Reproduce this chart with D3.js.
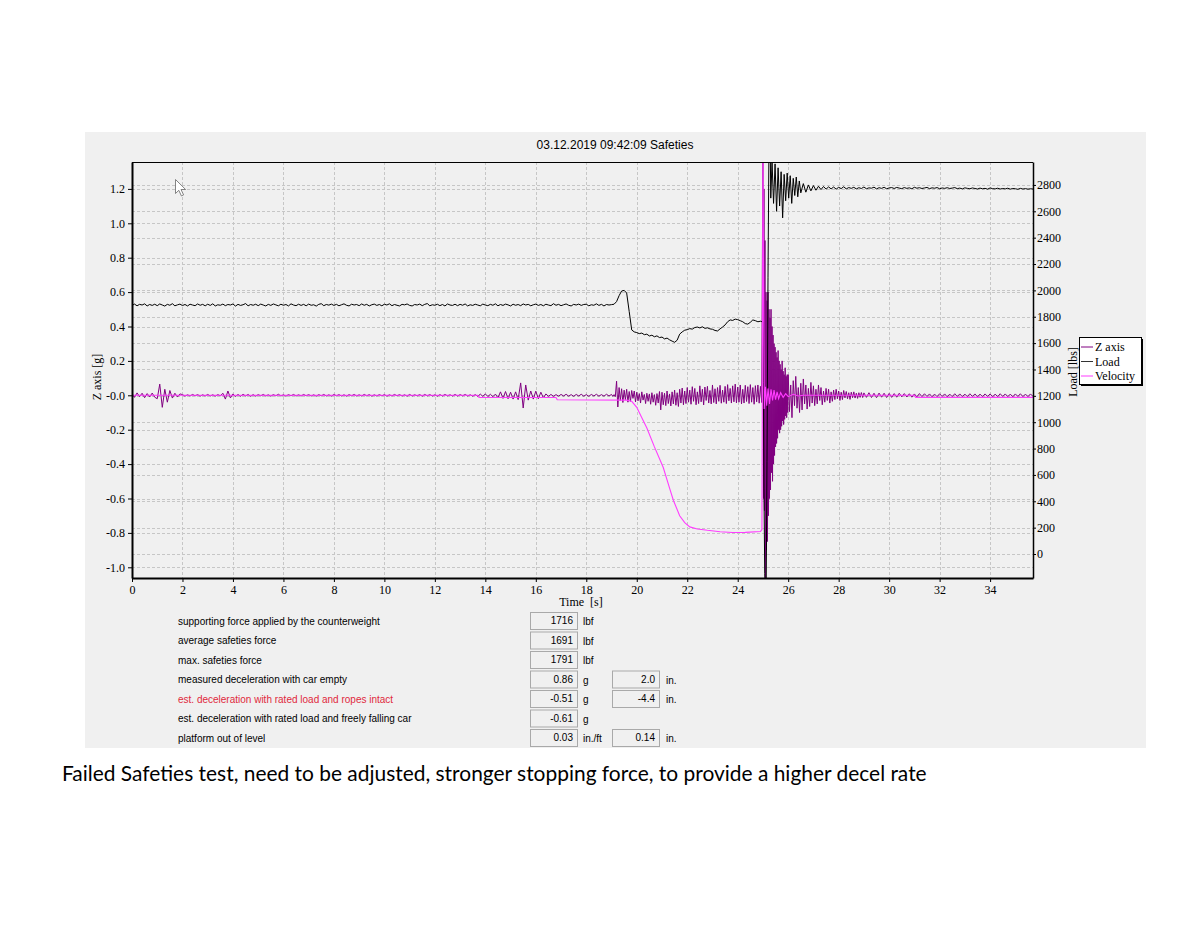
<!DOCTYPE html>
<html><head><meta charset="utf-8">
<script src="https://cdn.jsdelivr.net/npm/d3@7"></script>
<style>body{margin:0;background:#fff}svg{display:block}</style>
</head><body><svg id="c" width="1200" height="927"></svg>
<script>
// ---------- data ----------
const chartTitle = "03.12.2019 09:42:09 Safeties";
const caption = "Failed Safeties test, need to be adjusted, stronger stopping force, to provide a higher decel rate";
const timeTicks = [0,2,4,6,8,10,12,14,16,18,20,22,24,26,28,30,32,34];
const zTicks = [-1.0,-0.8,-0.6,-0.4,-0.2,0,0.2,0.4,0.6,0.8,1.0,1.2];
const zTickLabels = ["-1.0","-0.8","-0.6","-0.4","-0.2","-0.0","0.2","0.4","0.6","0.8","1.0","1.2"];
const loadTicks = [0,200,400,600,800,1000,1200,1400,1600,1800,2000,2200,2400,2600,2800];
const seriesNames = ["Z axis","Load","Velocity"];

// Load [lbs], sampled every 0.1 s from 0.0 s to 24.9 s
const loadPre = [
1886,1896,1883,1894,1889,1898,1882,1893,1886,1895,
1884,1897,1889,1881,1894,1887,1899,1883,1890,1896,
1885,1893,1882,1895,1889,1884,1897,1887,1894,1883,
1895,1886,1898,1882,1891,1887,1896,1884,1893,1889,
1897,1881,1894,1886,1891,1900,1883,1893,1887,1895,
1884,1896,1889,1882,1894,1886,1897,1890,1883,1895,
1887,1893,1882,1898,1889,1884,1895,1886,1894,1883,
1896,1887,1891,1881,1894,1899,1884,1893,1888,1896,
1886,1894,1883,1891,1898,1887,1882,1895,1889,1893,
1884,1897,1887,1894,1882,1891,1896,1886,1893,1883,
1895,1889,1898,1884,1893,1887,1882,1894,1890,1897,
1886,1882,1893,1889,1896,1884,1894,1900,1883,1891,
1887,1895,1884,1893,1882,1897,1889,1886,1895,1884,
1894,1887,1897,1882,1891,1886,1895,1889,1883,1896,
1889,1884,1894,1887,1898,1883,1893,1886,1896,1890,
1882,1895,1887,1893,1884,1897,1889,1894,1883,1891,
1896,1886,1893,1883,1895,1889,1884,1899,1887,1894,
1884,1891,1897,1887,1882,1894,1889,1896,1886,1893,
1895,1883,1891,1887,1898,1886,1894,1882,1893,1889,
1892,1895,1915,1960,1995,2000,1980,1840,1700,1685,
1680,1672,1676,1664,1668,1654,1660,1648,1655,1642,
1646,1632,1638,1625,1615,1606,1622,1668,1685,1698,
1702,1710,1706,1718,1722,1715,1724,1712,1716,1708,
1705,1696,1692,1708,1722,1738,1762,1776,1772,1782,
1778,1770,1762,1748,1744,1758,1776,1770,1762,1766
];
// Load [lbs] during the impact, [time s, lbs]
const loadImpact = [
[25.0,1760],[25.02,1300],[25.04,500],[25.07,-150],[25.1,-300],[25.13,-200],[25.16,700],
[25.2,2100],[25.24,3150],[25.28,3250],[25.31,2700],[25.36,2980],[25.42,2660],[25.48,2960],
[25.54,2600],[25.6,2930],[25.66,2640],[25.72,2900],[25.78,2550],[25.84,2880],[25.9,2680],
[25.96,2890],[26.02,2700],[26.08,2870],[26.14,2660],[26.2,2850],[26.26,2720],[26.32,2860],
[26.38,2710],[26.44,2830],[26.5,2740]
];
// Load [lbs], every 0.1 s from 26.6 s to 35.7 s
const loadPost = [
2810,2745,2800,2755,2795,2760,2790,2765,2788,2768,
2785,2770,2784,2768,2782,2772,2786,2770,2780,2774,
2782,2770,2779,2773,2784,2771,2778,2775,2783,2770,
2779,2774,2782,2771,2777,2780,2773,2781,2776,2772,
2780,2774,2778,2771,2782,2775,2779,2773,2777,2781,
2772,2778,2775,2780,2771,2777,2774,2779,2773,2776,
2780,2772,2776,2770,2778,2774,2771,2777,2773,2769,
2776,2771,2774,2768,2777,2772,2770,2775,2769,2773,
2770,2775,2768,2773,2771,2767,2774,2769,2772,2768,
2771,2769
];

// Z axis [g], every 0.1 s from 0.0 s to 18.9 s
const zPre = [
.010,-.012,.014,-.008,.012,-.014,.010,-.010,.013,-.011,
-.020,.065,-.070,.035,-.040,.028,-.016,.012,-.010,.008,
.004,-.005,.003,-.004,.005,-.003,.004,-.005,.003,-.004,
.005,-.004,.003,-.005,.004,-.003,.012,-.022,.025,-.015,
.008,-.007,.005,-.006,.006,-.004,.005,-.006,.004,-.005,
.004,-.003,.005,-.004,.003,-.005,.004,-.003,.006,-.004,
.003,-.005,.004,-.003,.005,-.004,.003,-.004,.005,-.003,
.004,-.004,.003,-.005,.004,-.003,.005,-.004,.003,-.005,
.005,-.003,.004,-.004,.003,-.005,.004,-.003,.005,-.004,
.003,-.004,.005,-.003,.004,-.005,.003,-.004,.004,-.003,
.004,-.005,.003,-.004,.005,-.003,.004,-.004,.003,-.005,
.005,-.004,.003,-.003,.004,-.005,.005,-.003,.004,-.004,
.003,-.005,.004,-.004,.005,-.003,.003,-.004,.005,-.004,
.004,-.003,.005,-.004,.003,-.005,.004,-.006,.007,-.006,
.008,-.007,.006,-.008,.007,-.015,.020,-.018,.022,-.020,
.018,-.022,.020,-.025,.072,-.074,.060,-.028,.025,-.022,
.024,-.020,.018,-.015,.008,-.006,.005,-.006,.004,-.005,
.005,-.004,.006,-.005,.004,-.006,.005,-.004,.006,-.005,
.004,-.006,.005,-.004,.006,-.005,.004,-.005,.006,-.004
];
// Z axis [g], every 0.05 s from 19.0 s to 24.95 s
const zMid = [
.005,-.006,.004,-.008,.082,-.068,.045,-.030,.038,-.042,
.030,-.025,.035,-.040,.022,-.035,.028,-.018,.025,-.038,
.018,-.032,.010,-.045,.020,-.028,.005,-.048,.012,-.035,
.008,-.052,.015,-.040,.004,-.058,.010,-.045,.022,-.085,
.018,-.055,.012,-.060,.025,-.048,.008,-.062,.020,-.050,
.030,-.058,.015,-.065,.035,-.045,.042,-.055,.025,-.048,
.045,-.040,.030,-.052,.050,-.035,.040,-.055,.020,-.048,
.055,-.038,.035,-.056,.048,-.030,.052,-.045,.028,-.050,
.060,-.042,.038,-.050,.045,-.035,.058,-.046,.030,-.040,
.052,-.048,.062,-.032,.040,-.045,.055,-.038,.065,-.044,
.048,-.040,.060,-.050,.035,-.045,.058,-.036,.050,-.048,
.062,-.040,.045,-.052,.056,-.038,.060,-.046,.052,-.042
];
// Z axis [g] during the impact, [time s, g]
const zImpact = [
[25.0,1.5],[25.02,-.6],[25.04,1.2],[25.06,-.67],[25.08,.9],[25.1,-1.1],[25.12,.6],[25.14,-.9],
[25.16,.55],[25.18,-.85],[25.2,.6],[25.22,-.7],[25.24,.5],[25.26,-.6],[25.28,.45],[25.3,-.55],
[25.32,.5],[25.34,-.45],[25.36,.4],[25.38,-.5],[25.4,.35],[25.42,-.4],[25.44,.3],[25.46,-.35],
[25.48,.28],[25.5,-.3],[25.52,.25],[25.54,-.28],[25.56,.22],[25.58,-.25],[25.6,.26],[25.62,-.2],
[25.64,.2],[25.66,-.22],[25.68,.18],[25.7,-.2],[25.72,.15],[25.74,-.18],[25.76,.2],[25.78,-.15],
[25.8,.14],[25.82,-.17],[25.84,.12],[25.86,-.14],[25.88,.16],[25.9,-.12],[25.92,.11],[25.94,-.13],
[25.96,.12],[25.98,-.1]
];
// Z axis [g], every 0.05 s from 26.0 s to 28.95 s
const zDecay = [
.120,-.095,.060,-.130,.085,-.060,.110,-.075,.045,-.100,
.070,-.085,.095,-.050,.060,-.080,.040,-.065,.075,-.045,
.055,-.060,.035,-.050,.060,-.030,.045,-.055,.025,-.040,
.040,-.030,.035,-.045,.020,-.035,.030,-.025,.035,-.020,
.025,-.030,.018,-.025,.028,-.015,.022,-.020,.015,-.024,
.018,-.014,.020,-.016,.012,-.018,.015,-.012,.016,-.013
];
// Z axis [g], every 0.1 s from 29.0 s to 35.7 s
const zPost = [
.014,-.012,.015,-.013,.012,-.014,.013,-.011,.012,-.013,
.011,-.012,.010,-.011,.012,-.009,.010,-.010,.009,-.011,
.008,-.009,.010,-.008,.009,-.007,.008,-.009,.007,-.008,
.009,-.007,.008,-.009,.007,-.008,.009,-.007,.008,-.008,
.007,-.008,.009,-.007,.008,-.009,.007,-.008,.008,-.007,
.008,-.009,.007,-.008,.009,-.007,.008,-.008,.007,-.009,
.008,-.007,.009,-.008,.007,-.008,.008,-.007
];
// Velocity (plotted on the left scale), [time s, value]
const velocity = [
[0,0],[13.7,0],[13.75,-.013],[16.8,-.013],[16.85,-.026],[19.6,-.028],[19.8,-.035],[20.0,-.07],
[20.2,-.13],[20.4,-.19],[20.7,-.3],[21.05,-.42],[21.3,-.54],[21.45,-.61],[21.7,-.70],[21.9,-.74],
[22.1,-.765],[22.4,-.777],[22.8,-.785],[23.3,-.793],[23.8,-.798],[24.3,-.797],[24.9,-.792],
[24.96,-.78],[25.0,1.45],[25.05,-.08],[25.1,.05],[25.15,-.06],[25.2,.04],[25.26,-.05],[25.32,.035],
[25.38,-.03],[25.44,.03],[25.5,-.025],[25.56,.02],[25.62,-.02],[25.7,.015],[25.8,-.012],
[25.9,.01],[26.0,-.008],[26.2,.006],[26.4,-.004],[26.6,0],[31.0,0],[31.05,-.012],[35.7,-.012]
];

// results table
const tableLabels = [
"supporting force applied by the counterweight",
"average safeties force",
"max. safeties force",
"measured deceleration with car empty",
"est. deceleration with rated load and ropes intact",
"est. deceleration with rated load and freely falling car",
"platform out of level"
];
const tableValues = ["1716","1691","1791","0.86","-0.51","-0.61","0.03"];
const tableUnits = ["lbf","lbf","lbf","g","g","g","in./ft"];
const tableValues2 = [null,null,null,"2.0","-4.4",null,"0.14"];
const tableUnits2 = [null,null,null,"in.","in.",null,"in."];
const warnRow = 4;

// ---------- drawing ----------
const svg = d3.select("#c");
const W = 1200, H = 927;
const L = 132, R = 1033, T = 162, B = 578;
const serif = "'Liberation Serif','Times New Roman',serif";
const sans = "'Liberation Sans',Arial,sans-serif";
const colZ = "#800080", colLoad = "#000000", colVel = "#ff3cff";

const uniform = (t0, dt, vals) => vals.map((v, i) => [+(t0 + i * dt).toFixed(3), v]);
const loadData = uniform(0, 0.1, loadPre).concat(loadImpact, uniform(26.6, 0.1, loadPost));
const zData = uniform(0, 0.1, zPre).concat(uniform(19.0, 0.05, zMid), zImpact,
  uniform(26.0, 0.05, zDecay), uniform(29.0, 0.1, zPost));

svg.append("rect").attr("width", W).attr("height", H).attr("fill", "#fff");
svg.append("rect").attr("x", 85).attr("y", 132).attr("width", 1061).attr("height", 616).attr("fill", "#f0f0f0");

const x = d3.scaleLinear([0, 35.70], [L, R]);
const yZ = d3.scaleLinear([-1.0622, 1.3564], [B, T]);
const yL = d3.scaleLinear([-182, 2974], [B, T]);

// grid
const grid = svg.append("g").attr("stroke", "#c6c6c6").attr("stroke-dasharray", "3,2").attr("stroke-width", 1);
grid.selectAll(".gv").data(timeTicks.filter(d => d > 0)).join("line")
  .attr("x1", d => Math.round(x(d)) + 0.5).attr("x2", d => Math.round(x(d)) + 0.5).attr("y1", T).attr("y2", B);
grid.selectAll(".gz").data(zTicks).join("line")
  .attr("x1", L).attr("x2", R).attr("y1", d => Math.round(yZ(d)) + 0.5).attr("y2", d => Math.round(yZ(d)) + 0.5);
grid.selectAll(".gl").data(loadTicks).join("line")
  .attr("x1", L).attr("x2", R).attr("y1", d => Math.round(yL(d)) + 0.5).attr("y2", d => Math.round(yL(d)) + 0.5);

// series
svg.append("clipPath").attr("id", "pc").append("rect").attr("x", L).attr("y", T).attr("width", R - L).attr("height", B - T);
const plot = svg.append("g").attr("clip-path", "url(#pc)");
const lineZ = d3.line().x(d => x(d[0])).y(d => yZ(d[1]));
const lineL = d3.line().x(d => x(d[0])).y(d => yL(d[1]));
plot.append("path").datum(zData).attr("d", lineZ).attr("fill", "none").attr("stroke", colZ).attr("stroke-width", 1);
plot.append("path").datum(loadData).attr("d", lineL).attr("fill", "none").attr("stroke", colLoad).attr("stroke-width", 1);
plot.append("path").datum(velocity).attr("d", lineZ).attr("fill", "none").attr("stroke", colVel).attr("stroke-width", 1.1);

// axes
function styleAxis(g, w) {
  g.select(".domain").attr("stroke", "#000").attr("stroke-width", w);
  g.selectAll(".tick line").attr("stroke", "#000");
  g.selectAll(".tick text").attr("font-family", serif).attr("font-size", 12).attr("fill", "#000");
}
svg.append("g").attr("transform", `translate(0,${B})`)
  .call(d3.axisBottom(x).tickValues(timeTicks).tickFormat(d3.format("d")).tickSize(4).tickSizeOuter(0))
  .call(g => styleAxis(g, 2));
svg.append("g").attr("transform", `translate(${L},0)`)
  .call(d3.axisLeft(yZ).tickValues(zTicks).tickFormat((d, i) => zTickLabels[i]).tickSize(4).tickSizeOuter(0))
  .call(g => styleAxis(g, 2));
svg.append("g").attr("transform", `translate(${R},0)`)
  .call(d3.axisRight(yL).tickValues(loadTicks).tickFormat(d3.format("d")).tickSize(3).tickPadding(1).tickSizeOuter(0))
  .call(g => styleAxis(g, 1.5));
svg.append("line").attr("x1", L).attr("x2", R).attr("y1", T + 0.5).attr("y2", T + 0.5).attr("stroke", "#000").attr("stroke-width", 1.2);

// titles
svg.append("text").attr("x", 615).attr("y", 149).attr("text-anchor", "middle")
  .attr("font-family", sans).attr("font-size", 12).attr("fill", "#000").text(chartTitle);
svg.append("text").attr("x", 581).attr("y", 606).attr("text-anchor", "middle").style("white-space", "pre")
  .attr("font-family", serif).attr("font-size", 12).attr("fill", "#000").text("Time  [s]");
svg.append("text").attr("transform", "translate(101,377) rotate(-90)").attr("text-anchor", "middle")
  .attr("font-family", serif).attr("font-size", 12).attr("fill", "#000").text("Z axis [g]");
svg.append("text").attr("transform", "translate(1077,372) rotate(-90)").attr("text-anchor", "middle")
  .attr("font-family", serif).attr("font-size", 12).attr("fill", "#000").text("Load [lbs]");

// legend
const lg = svg.append("g").attr("transform", "translate(1079,337)");
lg.append("rect").attr("x", 2).attr("y", 2).attr("width", 62).attr("height", 47).attr("fill", "#000");
lg.append("rect").attr("x", 0.5).attr("y", 0.5).attr("width", 62).attr("height", 47).attr("fill", "#fff").attr("stroke", "#000");
const legCols = [colZ, "#333", colVel];
seriesNames.forEach((n, i) => {
  const yy = 10 + i * 14.5;
  lg.append("line").attr("x1", 2).attr("x2", 14).attr("y1", yy).attr("y2", yy).attr("stroke", legCols[i]).attr("stroke-width", 1);
  lg.append("text").attr("x", 16).attr("y", yy + 4).attr("font-family", serif).attr("font-size", 12).attr("fill", "#000").text(n);
});

// mouse cursor
svg.append("path").attr("d", "M175.5,179.5 v14 l3.3,-3.2 l2.6,5.6 l2.2,-1 l-2.6,-5.4 h4.6 z")
  .attr("fill", "#fff").attr("stroke", "#666").attr("stroke-width", 0.8);

// table
const tb = svg.append("g").attr("font-family", sans).attr("font-size", 10);
tableLabels.forEach((lab, i) => {
  const cy = 621 + i * 19.5;
  tb.append("text").attr("x", 178).attr("y", cy + 3.5).attr("fill", i === warnRow ? "#e0283c" : "#000").text(lab);
  tb.append("rect").attr("x", 530.5).attr("y", cy - 8.5).attr("width", 47).attr("height", 17)
    .attr("fill", "#f0f0f0").attr("stroke", "#a9a9a9");
  tb.append("text").attr("x", 573).attr("y", cy + 3).attr("text-anchor", "end").attr("fill", "#000").text(tableValues[i]);
  tb.append("text").attr("x", 583).attr("y", cy + 4).attr("fill", "#000").text(tableUnits[i]);
  if (tableValues2[i] !== null) {
    tb.append("rect").attr("x", 612.5).attr("y", cy - 8.5).attr("width", 47).attr("height", 17)
      .attr("fill", "#f0f0f0").attr("stroke", "#a9a9a9");
    tb.append("text").attr("x", 655).attr("y", cy + 3).attr("text-anchor", "end").attr("fill", "#000").text(tableValues2[i]);
    tb.append("text").attr("x", 666).attr("y", cy + 4).attr("fill", "#000").text(tableUnits2[i]);
  }
});

// caption
const cap = svg.append("text").attr("x", 62).attr("y", 781).attr("font-family", "Lato,'Open Sans',sans-serif")
  .attr("font-size", 19).attr("fill", "#000").text(caption);
const cw = cap.node().getComputedTextLength();
if (cw > 0) cap.attr("font-size", (19 * 865 / cw).toFixed(2));
</script></body></html>
